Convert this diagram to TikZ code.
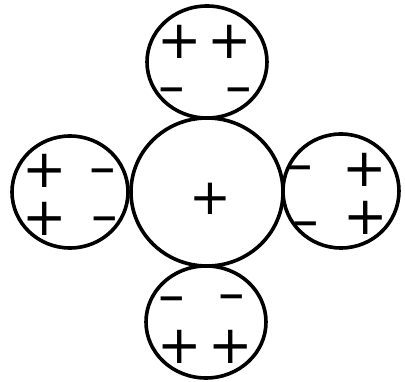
\documentclass[tikz,border=0pt]{standalone}
\usepackage{fontspec}
\setmainfont{DejaVu Sans}
\usetikzlibrary{shapes.geometric}
\tikzset{
  ball/.style={draw, ellipse, line width=3.6pt, inner sep=0pt},
  plussign/.style={inner sep=0pt, anchor=base, yshift=-19pt, font=\fontsize{53}{53}\selectfont},
  cplussign/.style={inner sep=0pt, anchor=base, yshift=-17.9pt, font=\fontsize{50}{50}\selectfont},
  minussign/.style={inner sep=0pt, anchor=base, yshift=-12.2pt, font=\bfseries\fontsize{34}{34}\selectfont},
}
\begin{document}
\begin{tikzpicture}[x=1pt,y=-1pt]
\useasboundingbox (0,0) rectangle (405,382);
\node[ball, minimum width=152pt, minimum height=148pt] (c) at (207,192) {};
\node[ball, minimum width=120pt, minimum height=112pt] (t) at (207,62) {};
\node[ball, minimum width=116pt, minimum height=112pt] (l) at (70,192) {};
\node[ball, minimum width=116pt, minimum height=114pt] (r) at (341,191) {};
\node[ball, minimum width=120pt, minimum height=112pt] (b) at (206,322) {};
% centre
\node[cplussign] (cp) at (210,197) {+};
% top
\node[plussign] (tp1) at (180,40) {+};
\node[plussign] (tp2) at (230,40) {+};
\node[minussign] (tm1) at (172,88) {−};
\node[minussign] (tm2) at (239,88) {−};
% left
\node[plussign] (lp1) at (45,169) {+};
\node[plussign] (lp2) at (45,217) {+};
\node[minussign] (lm1) at (103,169) {−};
\node[minussign] (lm2) at (105,217) {−};
% right
\node[minussign] (rm1) at (300,166) {−};
\node[minussign] (rm2) at (306,222) {−};
\node[plussign] (rp1) at (365,168) {+};
\node[plussign] (rp2) at (366,216) {+};
% bottom
\node[minussign] (bm1) at (172,297) {−};
\node[minussign] (bm2) at (232,295) {−};
\node[plussign] (bp1) at (180,345) {+};
\node[plussign] (bp2) at (231,345) {+};
\end{tikzpicture}
\end{document}
